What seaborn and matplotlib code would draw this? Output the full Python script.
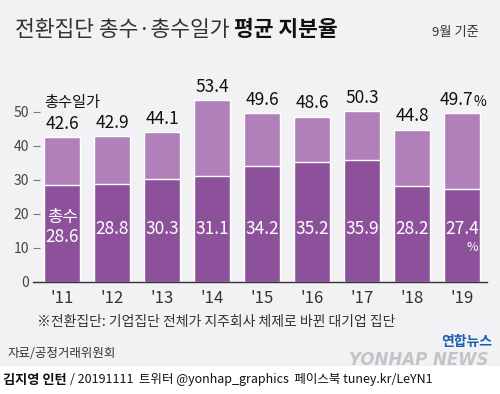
import matplotlib
matplotlib.use("Agg")
import matplotlib.pyplot as plt
import seaborn as sns
import pandas as pd

# data
years = ["'11", "'12", "'13", "'14", "'15", "'16", "'17", "'18", "'19"]
owner = [28.6, 28.8, 30.3, 31.1, 34.2, 35.2, 35.9, 28.2, 27.4]          # 총수
owner_family = [42.6, 42.9, 44.1, 53.4, 49.6, 48.6, 50.3, 44.8, 49.7]   # 총수일가
yticks = [0, 10, 20, 30, 40, 50]

bg = "#f2f2f4"
light = "#b17fba"
dark = "#8d519b"

sns.set_theme(style="white")
plt.rcParams["font.family"] = ["Noto Sans CJK KR", "DejaVu Sans"]

df = pd.DataFrame({"year": years, "owner": owner, "family": owner_family})

fig = plt.figure(figsize=(5, 3.94), dpi=100, facecolor=bg)
ax = fig.add_axes([0.066, 0.2843, 0.908, 0.4746])
ax.set_facecolor(bg)

sns.barplot(data=df, x="year", y="family", color=light, saturation=1, width=0.72, ax=ax)
sns.barplot(data=df, x="year", y="owner", color=dark, saturation=1, width=0.72, ax=ax)

ax.set_xlim(-0.58, 8.5)
ax.set_ylim(0, 55)
ax.set_yticks(yticks)
ax.set_xlabel("")
ax.set_ylabel("")
for s in ["top", "right", "left"]:
    ax.spines[s].set_visible(False)
ax.spines["bottom"].set_color("#333333")
ax.spines["bottom"].set_linewidth(1.0)
ax.tick_params(axis="y", direction="in", length=5, width=0.8, color="#777777",
               pad=3, labelsize=10, labelcolor="#444444", left=True)
ax.tick_params(axis="x", length=0, pad=6, labelsize=12, labelcolor="#333333")

# value labels
last = len(years) - 1
for i, (o, f) in enumerate(zip(owner, owner_family)):
    if i == last:
        ax.text(i - 0.1, f + 1.3, f"{f}", ha="center", va="bottom", fontsize=12.5, color="#111111")
        ax.text(i + 0.24, f + 1.3, "%", ha="left", va="bottom", fontsize=10, color="#111111")
    else:
        ax.text(i, f + 1.3, f"{f}", ha="center", va="bottom", fontsize=12.5, color="#111111")
    y_in = 13.2 if i == 0 else 15.5
    ax.text(i, y_in, f"{o}", ha="center", va="center", fontsize=12.5, color="white")

ax.text(last + 0.2, 10.0, "%", ha="center", va="center", fontsize=9, color="white")
ax.text(0, 19.0, "총수", ha="center", va="center", fontsize=12, color="white")
ax.text(-0.36, 52.8, "총수일가", ha="left", va="center", fontsize=11, color="#111111")

# title and notes
fig.canvas.draw()
t1 = fig.text(0.03, 0.924, "전환집단 총수·총수일가 ", fontsize=15.5, color="#333333", va="center")
bb = t1.get_window_extent(fig.canvas.get_renderer())
fig.text(bb.x1 / fig.bbox.width, 0.924, "평균 지분율", fontsize=15.5, color="#111111",
         va="center", fontweight="bold")
fig.text(0.957, 0.918, "9월 기준", fontsize=9.5, color="#333333", va="center", ha="right")
fig.text(0.074, 0.183, "※전환집단: 기업집단 전체가 지주회사 체제로 바뀐 대기업 집단",
         fontsize=10, color="#333333", va="center")
fig.text(0.016, 0.104, "자료/공정거래위원회", fontsize=9, color="#333333", va="center",
         style="italic")

# logo approximation
fig.text(0.985, 0.132, "연합뉴스", fontsize=10, color="#1a5fb4", va="center", ha="right",
         fontweight="bold")
fig.text(0.978, 0.086, "YONHAP NEWS", fontsize=12, color="#c4c4c8", va="center", ha="right",
         fontweight="bold", style="italic", family=["DejaVu Sans"])

# white footer strip
fig.patches.append(plt.Rectangle((0, 0), 1, 0.071, transform=fig.transFigure,
                                 facecolor="white", edgecolor="none", zorder=0))
fig.text(0.006, 0.036, "김지영 인턴", fontsize=9.5, color="#111111", va="center",
         fontweight="bold")
fig.text(0.14, 0.036, "/ 20191111  트위터 @yonhap_graphics  페이스북 tuney.kr/LeYN1",
         fontsize=9, color="#111111", va="center")

fig.savefig("out.png", dpi=100, facecolor=bg)
